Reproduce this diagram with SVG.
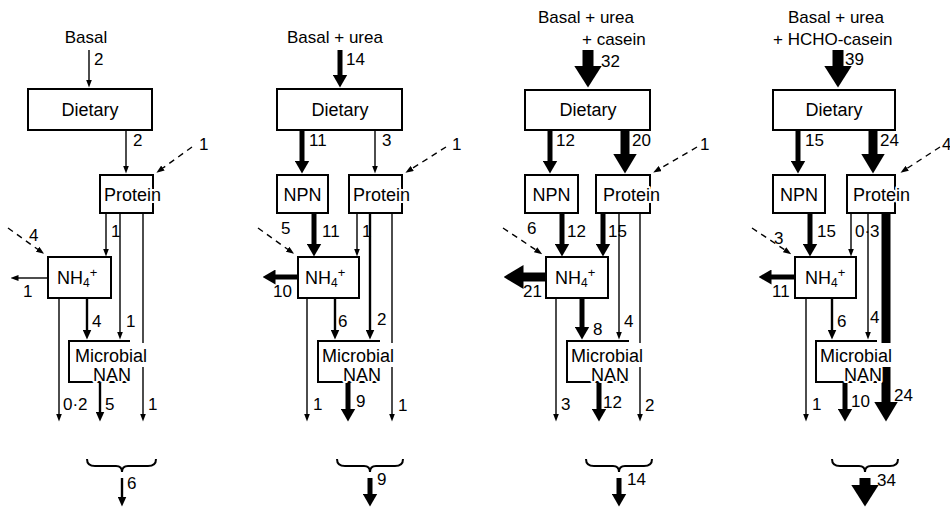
<svg xmlns="http://www.w3.org/2000/svg" width="950" height="508" viewBox="0 0 950 508">
<style>
.box{fill:#fff;stroke:#000;stroke-width:2}
.nt{font-family:"Liberation Sans",Arial,sans-serif;font-size:18px;fill:#000;paint-order:stroke;stroke:#fff;stroke-width:4px;stroke-linejoin:round}
.ti{font-family:"Liberation Sans",Arial,sans-serif;font-size:17px;fill:#000}
.lb{font-family:"Liberation Sans",Arial,sans-serif;font-size:17px;fill:#000}
.mid{text-anchor:middle}
.c{stroke:#000;fill:none}
.w1{stroke-width:1.4;marker-end:url(#h1)}
.w2{stroke-width:2.4;marker-end:url(#h2)}
.w3{stroke-width:5;marker-end:url(#h3)}
.w4{stroke-width:9;marker-end:url(#h4)}
.w5{stroke-width:11;marker-end:url(#h5)}
.s1{stroke-width:1.4}
.s4{stroke-width:9}
.d{stroke-width:1.4;stroke-dasharray:6 5;marker-end:url(#h1)}
.br{stroke-width:2}
</style>
<defs>
<marker id="h1" markerUnits="userSpaceOnUse" markerWidth="8" markerHeight="6" refX="0.5" refY="3" orient="auto"><path d="M0,0 L8,3 L0,6 z"/></marker>
<marker id="h2" markerUnits="userSpaceOnUse" markerWidth="10" markerHeight="9" refX="0.5" refY="4.5" orient="auto"><path d="M0,0 L10,4.5 L0,9 z"/></marker>
<marker id="h3" markerUnits="userSpaceOnUse" markerWidth="13" markerHeight="15" refX="0.5" refY="7.5" orient="auto"><path d="M0,0 L13,7.5 L0,15 z"/></marker>
<marker id="h4" markerUnits="userSpaceOnUse" markerWidth="20" markerHeight="24" refX="0.5" refY="12" orient="auto"><path d="M0,0 L20,12 L0,24 z"/></marker>
<marker id="h5" markerUnits="userSpaceOnUse" markerWidth="22" markerHeight="28" refX="0.5" refY="14" orient="auto"><path d="M0,0 L22,14 L0,28 z"/></marker>
</defs>
<rect width="950" height="508" fill="#fff"/>

<g id="connectors">
<!-- Panel 1 -->
<line class="c w1" x1="89" y1="50" x2="89" y2="80"/>
<line class="c w1" x1="126" y1="130" x2="126" y2="166"/>
<line class="c d" x1="192" y1="147" x2="162.5" y2="168.3"/>
<line class="c w1" x1="106" y1="213" x2="106" y2="249"/>
<line class="c w1" x1="120" y1="213" x2="120" y2="332"/>
<line class="c s1" x1="143" y1="213" x2="143" y2="343"/>
<line class="c w1" x1="143" y1="367" x2="143" y2="414"/>
<line class="c d" x1="8" y1="228" x2="38" y2="249.5"/>
<line class="c w1" x1="48" y1="278" x2="18" y2="278"/>
<line class="c w1" x1="59" y1="298" x2="59" y2="414"/>
<line class="c w2" x1="87" y1="298" x2="87" y2="330"/>
<line class="c w2" x1="100" y1="382" x2="100" y2="412"/>
<path class="c br" d="M87,459 Q87,466 95,466 H116 Q122,466 122,472 Q122,466 128,466 H148 Q156,466 156,459"/>
<line class="c w2" x1="122" y1="478" x2="122" y2="497"/>
<!-- Panel 2 -->
<line class="c w3" x1="340" y1="50" x2="340" y2="75"/>
<line class="c w3" x1="302" y1="130" x2="302" y2="161"/>
<line class="c w1" x1="375" y1="130" x2="375" y2="166"/>
<line class="c d" x1="446" y1="147" x2="411.8" y2="168.7"/>
<line class="c w3" x1="314" y1="213" x2="314" y2="244"/>
<line class="c w1" x1="357" y1="213" x2="357" y2="249"/>
<line class="c w2" x1="370" y1="213" x2="370" y2="330"/>
<line class="c s1" x1="392" y1="213" x2="392" y2="343"/>
<line class="c w1" x1="392" y1="367" x2="392" y2="414"/>
<line class="c d" x1="258" y1="228" x2="288" y2="249.5"/>
<line class="c w3" x1="298" y1="277" x2="275" y2="277"/>
<line class="c w1" x1="307" y1="298" x2="307" y2="414"/>
<line class="c w2" x1="335" y1="298" x2="335" y2="330"/>
<line class="c w3" x1="348" y1="382" x2="348" y2="409"/>
<path class="c br" d="M337,459 Q337,466 345,466 H364 Q370,466 370,472 Q370,466 376,466 H395 Q403,466 403,459"/>
<line class="c w3" x1="370" y1="478" x2="370" y2="494"/>
<!-- Panel 3 -->
<line class="c w5" x1="588" y1="50" x2="588" y2="66"/>
<line class="c w3" x1="550" y1="130" x2="550" y2="161"/>
<line class="c w4" x1="625" y1="130" x2="625" y2="154"/>
<line class="c d" x1="697" y1="147" x2="659.7" y2="168.8"/>
<line class="c w3" x1="562" y1="213" x2="562" y2="244"/>
<line class="c w3" x1="603" y1="213" x2="603" y2="244"/>
<line class="c w1" x1="619" y1="213" x2="619" y2="332"/>
<line class="c s1" x1="640" y1="213" x2="640" y2="343"/>
<line class="c w1" x1="640" y1="367" x2="640" y2="414"/>
<line class="c d" x1="503" y1="228" x2="536" y2="250"/>
<line class="c w4" x1="546" y1="277" x2="523" y2="277"/>
<line class="c w1" x1="556" y1="298" x2="556" y2="414"/>
<line class="c w3" x1="582" y1="298" x2="582" y2="327"/>
<line class="c w3" x1="599" y1="382" x2="599" y2="409"/>
<path class="c br" d="M586,459 Q586,466 594,466 H613 Q619,466 619,472 Q619,466 625,466 H644 Q652,466 652,459"/>
<line class="c w3" x1="619" y1="478" x2="619" y2="494"/>
<!-- Panel 4 -->
<line class="c w5" x1="838" y1="50" x2="838" y2="66"/>
<line class="c w3" x1="798" y1="130" x2="798" y2="161"/>
<line class="c w4" x1="873" y1="130" x2="873" y2="154"/>
<line class="c d" x1="940" y1="147" x2="906.8" y2="168.6"/>
<line class="c w3" x1="810" y1="213" x2="810" y2="244"/>
<line class="c w1" x1="851" y1="213" x2="851" y2="249"/>
<line class="c w1" x1="868" y1="213" x2="868" y2="332"/>
<line class="c s4" x1="886" y1="213" x2="886" y2="343"/>
<line class="c w4" x1="886" y1="367" x2="886" y2="402"/>
<line class="c d" x1="752" y1="228" x2="785" y2="250"/>
<line class="c w3" x1="795" y1="277" x2="771" y2="277"/>
<line class="c w1" x1="806" y1="298" x2="806" y2="414"/>
<line class="c w2" x1="832" y1="298" x2="832" y2="330"/>
<line class="c w3" x1="845" y1="382" x2="845" y2="409"/>
<path class="c br" d="M832,459 Q832,466 840,466 H859 Q865,466 865,472 Q865,466 871,466 H890 Q898,466 898,459"/>
<line class="c w5" x1="865" y1="478" x2="865" y2="485"/>
</g>

<g id="labels">
<text class="lb" x="94" y="65">2</text>
<text class="lb" x="133" y="146">2</text>
<text class="lb" x="199" y="150">1</text>
<text class="lb" x="111" y="237">1</text>
<text class="lb" x="126" y="327">1</text>
<text class="lb" x="148" y="410">1</text>
<text class="lb" x="29" y="241">4</text>
<text class="lb" x="23" y="297">1</text>
<text class="lb" x="63" y="410">0·2</text>
<text class="lb" x="92" y="327">4</text>
<text class="lb" x="105" y="410">5</text>
<text class="lb" x="127" y="489">6</text>

<text class="lb" x="346" y="65">14</text>
<text class="lb" x="309" y="146">11</text>
<text class="lb" x="382" y="146">3</text>
<text class="lb" x="452" y="150">1</text>
<text class="lb" x="322" y="237">11</text>
<text class="lb" x="362" y="237">1</text>
<text class="lb" x="377" y="325">2</text>
<text class="lb" x="398" y="411">1</text>
<text class="lb" x="281" y="234">5</text>
<text class="lb" x="273" y="297">10</text>
<text class="lb" x="313" y="410">1</text>
<text class="lb" x="338" y="327">6</text>
<text class="lb" x="356" y="407">9</text>
<text class="lb" x="377" y="485">9</text>

<text class="lb" x="601" y="67">32</text>
<text class="lb" x="556" y="146">12</text>
<text class="lb" x="632" y="146">20</text>
<text class="lb" x="700" y="150">1</text>
<text class="lb" x="567" y="237">12</text>
<text class="lb" x="608" y="237">15</text>
<text class="lb" x="624" y="327">4</text>
<text class="lb" x="645" y="411">2</text>
<text class="lb" x="527" y="234">6</text>
<text class="lb" x="523" y="297">21</text>
<text class="lb" x="561" y="410">3</text>
<text class="lb" x="593" y="335">8</text>
<text class="lb" x="603" y="408">12</text>
<text class="lb" x="627" y="485">14</text>

<text class="lb" x="845" y="65">39</text>
<text class="lb" x="805" y="146">15</text>
<text class="lb" x="880" y="146">24</text>
<text class="lb" x="942" y="150">4</text>
<text class="lb" x="817" y="237">15</text>
<text class="lb" x="855" y="237">0·3</text>
<text class="lb" x="870" y="323">4</text>
<text class="lb" x="894" y="401">24</text>
<text class="lb" x="774" y="244">3</text>
<text class="lb" x="772" y="297">11</text>
<text class="lb" x="812" y="410">1</text>
<text class="lb" x="837" y="327">6</text>
<text class="lb" x="851" y="407">10</text>
<text class="lb" x="877" y="486">34</text>
</g>

<g id="p1-title"><text class="ti mid" x="86" y="43">Basal</text></g>
<g id="p1-dietary"><rect class="box" x="28" y="89" width="124" height="41"/><text class="nt mid" x="90" y="116">Dietary</text></g>
<g id="p1-protein"><rect class="box" x="100" y="175" width="53" height="38"/><text class="nt" x="104" y="201">Protein</text></g>
<g id="p1-nh4"><rect class="box" x="48" y="257" width="63" height="41"/><text class="nt" x="57" y="284">NH<tspan font-size="12" dy="3">4</tspan><tspan font-size="13" dy="-10">+</tspan></text></g>
<g id="p1-microbial"><path class="box" fill="none" d="M130,341 H69 V382 H130"/><text class="nt" x="75" y="362">Microbial</text><text class="nt" x="93" y="381">NAN</text></g>

<g id="p2-title"><text class="ti" x="287" y="43">Basal + urea</text></g>
<g id="p2-dietary"><rect class="box" x="277" y="89" width="125" height="41"/><text class="nt mid" x="340" y="116">Dietary</text></g>
<g id="p2-npn"><rect class="box" x="277" y="175" width="51" height="38"/><text class="nt mid" x="302.5" y="201">NPN</text></g>
<g id="p2-protein"><rect class="box" x="349" y="175" width="53" height="38"/><text class="nt" x="353" y="201">Protein</text></g>
<g id="p2-nh4"><rect class="box" x="298" y="257" width="61" height="41"/><text class="nt" x="305" y="284">NH<tspan font-size="12" dy="3">4</tspan><tspan font-size="13" dy="-10">+</tspan></text></g>
<g id="p2-microbial"><path class="box" fill="none" d="M380,341 H318 V382 H380"/><text class="nt" x="322" y="362">Microbial</text><text class="nt" x="343" y="381">NAN</text></g>

<g id="p3-title"><text class="ti" x="538" y="23">Basal + urea</text><text class="ti" x="582" y="45">+ casein</text></g>
<g id="p3-dietary"><rect class="box" x="525" y="90" width="125" height="40"/><text class="nt mid" x="588" y="116">Dietary</text></g>
<g id="p3-npn"><rect class="box" x="525" y="175" width="53" height="38"/><text class="nt mid" x="551.5" y="201">NPN</text></g>
<g id="p3-protein"><rect class="box" x="596" y="175" width="54" height="38"/><text class="nt" x="603" y="201">Protein</text></g>
<g id="p3-nh4"><rect class="box" x="546" y="257" width="62" height="41"/><text class="nt" x="555" y="284">NH<tspan font-size="12" dy="3">4</tspan><tspan font-size="13" dy="-10">+</tspan></text></g>
<g id="p3-microbial"><path class="box" fill="none" d="M629,341 H567 V382 H629"/><text class="nt" x="571" y="362">Microbial</text><text class="nt" x="591" y="381">NAN</text></g>

<g id="p4-title"><text class="ti" x="788" y="23">Basal + urea</text><text class="ti" x="773" y="45">+ HCHO-casein</text></g>
<g id="p4-dietary"><rect class="box" x="773" y="90" width="122" height="40"/><text class="nt mid" x="834" y="116">Dietary</text></g>
<g id="p4-npn"><rect class="box" x="773" y="175" width="52" height="38"/><text class="nt mid" x="799" y="201">NPN</text></g>
<g id="p4-protein"><rect class="box" x="847" y="175" width="48" height="38"/><text class="nt" x="853" y="201">Protein</text></g>
<g id="p4-nh4"><rect class="box" x="795" y="257" width="61" height="41"/><text class="nt" x="805" y="284">NH<tspan font-size="12" dy="3">4</tspan><tspan font-size="13" dy="-10">+</tspan></text></g>
<g id="p4-microbial"><path class="box" fill="none" d="M877,341 H816 V382 H877"/><text class="nt" x="820" y="362">Microbial</text><text class="nt" x="844" y="381">NAN</text></g>
</svg>
